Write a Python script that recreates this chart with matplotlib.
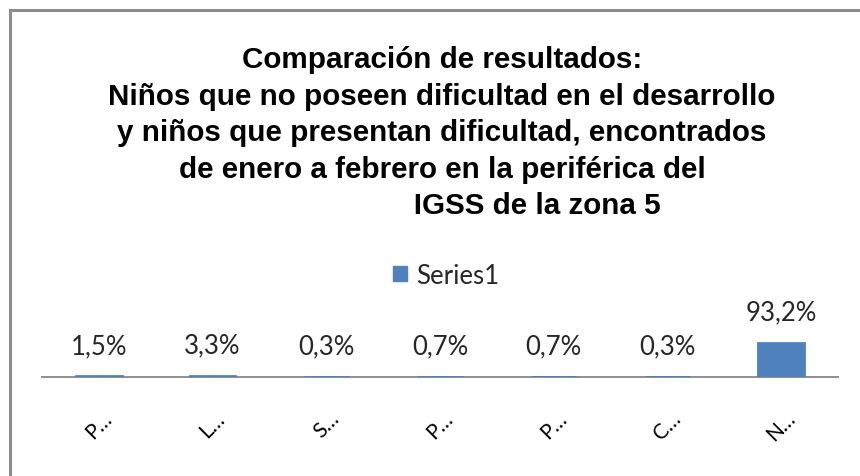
import matplotlib.pyplot as plt
from matplotlib.patches import Patch, Rectangle

# datos del grafico
categorias = ['P…', 'L…', 'S…', 'P…', 'P…', 'C…', 'N…']
valores = [1.5, 3.3, 0.3, 0.7, 0.7, 0.3, 93.2]
etiquetas = ['1,5%', '3,3%', '0,3%', '0,7%', '0,7%', '0,3%', '93,2%']
titulo = ('Comparación de resultados:\n'
          'Niños que no poseen dificultad en el desarrollo\n'
          'y niños que presentan dificultad, encontrados\n'
          'de enero a febrero en la periférica del\n'
          '                       IGSS de la zona 5')

azul = '#4F81BD'
W, H = 860, 477

fig = plt.figure(figsize=(W / 100, H / 100), dpi=100)

# marco del grafico (estilo Excel)
fig.patches.append(Rectangle((10 / W, -0.1), 1.2, 1 - 11 / H + 0.1,
                             transform=fig.transFigure, fill=False,
                             edgecolor='#8c8c8c', linewidth=2.2))

# titulo
fig.text(442 / W, 1 - 46 / H, titulo, ha='center', va='top',
         family='Liberation Sans', fontweight='bold', fontsize=21.3,
         linespacing=1.39, color='black')

ax = fig.add_axes([42 / W, 1 - 378 / H, 796 / W, 78 / H])
x = range(len(valores))
# zorder alto para que las barras pequeñas se vean sobre el eje
ax.bar(x, valores, width=0.4, color=azul, edgecolor=azul, linewidth=2, zorder=3)
ax.set_xlim(-0.5, len(valores) - 0.5)
ax.set_ylim(0, 214)

# etiquetas de datos
for i, (v, t) in enumerate(zip(valores, etiquetas)):
    ax.annotate(t, xy=(i, v), xytext=(0, 17), textcoords='offset points',
                ha='center', va='baseline', family='Lato', fontsize=18.5,
                color='#262626')

ax.set_xticks(list(x))
ax.set_xticklabels(categorias, rotation=45, ha='center', rotation_mode='default',
                   family='Lato', fontsize=15)
ax.tick_params(axis='x', length=0, pad=22)
ax.set_yticks([])
for s in ['top', 'left', 'right']:
    ax.spines[s].set_visible(False)
ax.spines['bottom'].set_color('#868686')
ax.spines['bottom'].set_linewidth(1.3)

# leyenda
fig.legend(handles=[Patch(color=azul, label='Series1')], loc='center',
           bbox_to_anchor=(446 / W, 1 - 276 / H), frameon=False,
           prop={'family': 'Lato', 'size': 18.5}, handlelength=0.55, handleheight=0.55,
           handletextpad=0.35, labelcolor='#262626')

plt.savefig('out.png', dpi=100)
